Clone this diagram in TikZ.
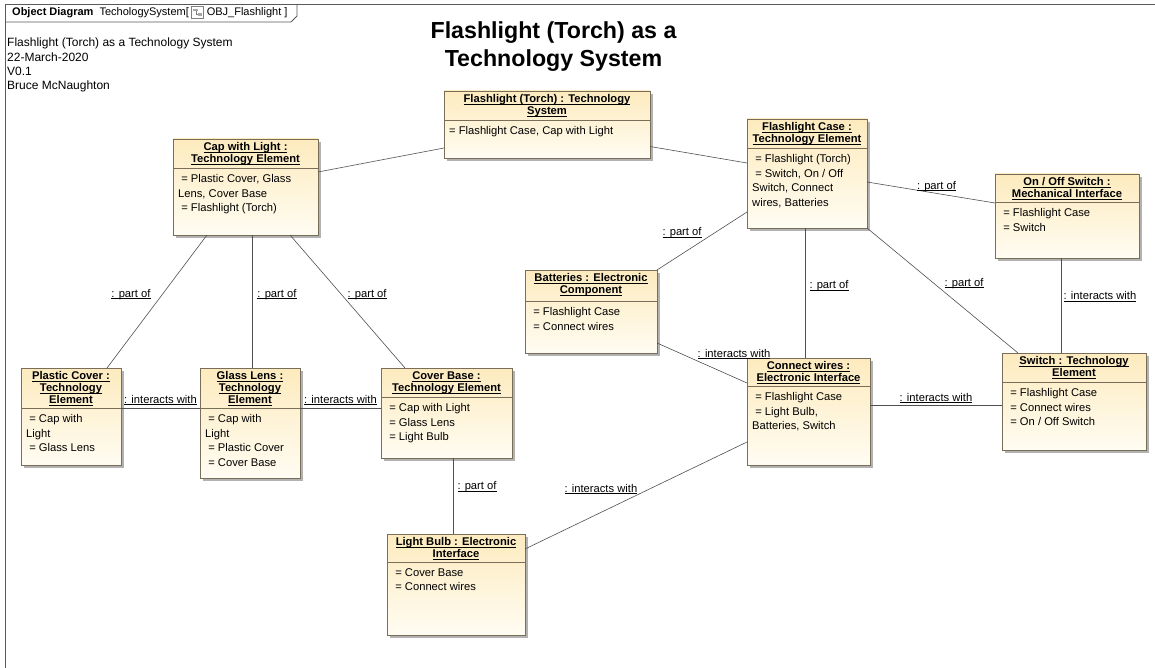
\documentclass[tikz,border=0pt]{standalone}
\usepackage{fontspec}
\setmainfont{Liberation Sans}
\usetikzlibrary{positioning,shadows,calc}

\definecolor{boxedge}{RGB}{120,110,90}
\definecolor{boxtop}{RGB}{253,235,190}
\definecolor{boxbot}{RGB}{255,252,242}
\definecolor{linkgray}{RGB}{80,80,80}
\definecolor{framegray}{RGB}{90,90,90}

\tikzset{
    object box/.style={
        draw=boxedge,line width=.7pt,
        top color=boxtop,bottom color=boxbot,
        inner sep=0pt,outer sep=0pt,anchor=north west,
        drop shadow={shadow xshift=3pt,shadow yshift=-3pt,fill=black!55,opacity=.55}
    },
    object name/.style={anchor=north,inner sep=0pt,align=center,
        font={\fontsize{11.2}{12}\selectfont\bfseries}},
    object slots/.style={anchor=north west,inner sep=0pt,align=left,
        font={\fontsize{11.2}{14.7}\selectfont}},
    object sep/.style={draw=boxedge,line width=.7pt},
    link/.style={draw=linkgray,line width=.6pt},
    link label/.style={inner sep=0pt,text height=8pt,text depth=2pt,
        font={\fontsize{11.2}{13}\selectfont}},
    header text/.style={inner sep=0pt,anchor=west,
        font={\fontsize{11}{13}\selectfont}},
}

\newcommand{\uname}[1]{\underline{\smash{#1}}\vphantom{Tg}}
% name, left, top, width, height, separator, title, slots
\newcommand{\objectbox}[8]{%
    \node[object box,minimum width=#4pt,minimum height=#5pt] (#1) at (#2,#3) {};
    \node[object name] at ([yshift=-3.8pt]#1.north) {#7};
    \draw[object sep] ([yshift=-#6pt]#1.north west) -- ([yshift=-#6pt]#1.north east);
    \node[object slots] at ([xshift=5pt,yshift=-#6pt-6pt]#1.north west) {#8};
}

\begin{document}
\begin{tikzpicture}[x=1pt,y=-1pt]
    \useasboundingbox (0,0) rectangle (1155,668);
    \fill[white] (0,0) rectangle (1155,668);

    % diagram frame and tab
    \draw[framegray,line width=.8pt] (5,668) -- (5,4) -- (1155,4);
    \draw[framegray,line width=.8pt] (5,22) -- (291,22) -- (297,16) -- (297,4);
    \node[header text] (hdr) at (12,12.5) {\textbf{Object Diagram}\ \ TechologySystem[};
    \node[draw=gray,line width=.5pt,fill=white,minimum size=12pt,inner sep=0pt,right=2pt of hdr] (icon) {};
    \fill[gray!70] ([shift={(-4pt,3.5pt)}]icon.center) rectangle ([shift={(1pt,1pt)}]icon.center);
    \draw[gray,line width=.5pt] ([shift={(-1.5pt,1pt)}]icon.center) |- ([shift={(3pt,-2pt)}]icon.center);
    \fill[gray!70] ([shift={(1pt,-0.5pt)}]icon.center) rectangle ([shift={(4.5pt,-4pt)}]icon.center);
    \node[header text,right=3pt of icon] (hdr2) {OBJ\_Flashlight ]};

    \node[anchor=north west,inner sep=0pt,align=left,font={\fontsize{12}{14.3}\selectfont}] (info)
        at (7,38) {Flashlight (Torch) as a Technology System\\22-March-2020\\V0.1\\Bruce McNaughton};
    \node[anchor=north,inner sep=0pt,align=center,font={\fontsize{23.2}{28}\selectfont\bfseries}] (title)
        at (553.5,21) {Flashlight (Torch) as a\\Technology System};

    % objects
    \objectbox{sys}{444}{91}{206}{67}{29}{\uname{Flashlight (Torch) : Technology}\\\uname{System}}
        {= Flashlight Case, Cap with Light}
    \objectbox{cap}{173}{139}{145}{96}{29}{\uname{Cap with Light :}\\\uname{Technology Element}}
        {~= Plastic Cover, Glass\\Lens, Cover Base\\~= Flashlight (Torch)}
    \objectbox{case}{747}{119}{120}{109}{29}{\uname{Flashlight Case :}\\\uname{Technology Element}}
        {~= Flashlight (Torch)\\~= Switch, On / Off\\Switch, Connect\\wires, Batteries}
    \objectbox{onoff}{995}{174}{144}{84}{28}{\uname{On / Off Switch :}\\\uname{Mechanical Interface}}
        {~= Flashlight Case\\~= Switch}
    \objectbox{batt}{525}{270}{132}{83}{31}{\uname{Batteries : Electronic}\\\uname{Component}}
        {~= Flashlight Case\\~= Connect wires}
    \objectbox{plastic}{21}{368}{100}{97}{40}{\uname{Plastic Cover :}\\\uname{Technology}\\\uname{Element}}
        {~= Cap with\\Light\\~= Glass Lens}
    \objectbox{glass}{200}{368}{100}{110}{40}{\uname{Glass Lens :}\\\uname{Technology}\\\uname{Element}}
        {~= Cap with\\Light\\~= Plastic Cover\\~= Cover Base}
    \objectbox{cover}{381}{368}{131}{90}{29}{\uname{Cover Base :}\\\uname{Technology Element}}
        {~= Cap with Light\\~= Glass Lens\\~= Light Bulb}
    \objectbox{wires}{747}{358}{123}{107}{28}{\uname{Connect wires :}\\\uname{Electronic Interface}}
        {~= Flashlight Case\\~= Light Bulb,\\Batteries, Switch}
    \objectbox{switch}{1002}{353}{144}{97}{29}{\uname{Switch : Technology}\\\uname{Element}}
        {~= Flashlight Case\\~= Connect wires\\~= On / Off Switch}
    \objectbox{bulb}{387}{534}{138}{101}{28}{\uname{Light Bulb : Electronic}\\\uname{Interface}}
        {~= Cover Base\\~= Connect wires}

    % links
    \draw[link] ([yshift=15pt]cap.east) -- ([yshift=-23.5pt]sys.west);
    \draw[link] ([yshift=-22pt]sys.east) -- ([yshift=10.5pt]case.west);
    \draw[link] ([xshift=-38.5pt]cap.south) -- node[link label,pos=.444,xshift=-31.6pt] {\uname{: part of}} ([xshift=36pt]plastic.north);
    \draw[link] ([xshift=6.5pt]cap.south) -- node[link label,pos=.444,xshift=25pt] {\uname{: part of}} ([xshift=2pt]glass.north);
    \draw[link] ([xshift=44.5pt]cap.south) -- node[link label,pos=.444,xshift=26pt] {\uname{: part of}} ([xshift=-41.5pt]cover.north);
    \draw[link] ([yshift=8.5pt]plastic.east) -- node[link label,yshift=8pt] {\uname{: interacts with}} ([yshift=15pt]glass.west);
    \draw[link] ([yshift=15pt]glass.east) -- node[link label,yshift=8pt] {\uname{: interacts with}} ([yshift=5pt]cover.west);
    \draw[link] ([xshift=6.5pt]cover.south) -- node[link label,pos=.38,xshift=24pt] {\uname{: part of}} ([xshift=-3pt]bulb.north);
    \draw[link] ([yshift=35.5pt]bulb.east) -- node[link label,pos=.342,yshift=23.4pt] {\uname{: interacts with}} ([yshift=-30.5pt]wires.west);
    \draw[link] ([yshift=-31.5pt]batt.east) -- node[link label,pos=.856,yshift=23pt] {\uname{: interacts with}} ([yshift=28.5pt]wires.west);
    \draw[link] (batt.north east) -- node[link label,pos=.278,yshift=21pt] {\uname{: part of}} ([yshift=-38.5pt]case.west);
    \draw[link] ([xshift=-2pt]case.south) -- node[link label,pos=.446,xshift=24pt] {\uname{: part of}} ([xshift=-3.5pt]wires.north);
    \draw[link] (case.south east) -- node[link label,pos=.44,xshift=30.6pt] {\uname{: part of}} ([xshift=-56pt]switch.north);
    \draw[link] ([yshift=-8.5pt]case.east) -- node[link label,pos=.543,yshift=7.4pt] {\uname{: part of}} ([yshift=13pt]onoff.west);
    \draw[link] ([xshift=-6pt]onoff.south) -- node[link label,pos=.41,xshift=39pt] {\uname{: interacts with}} ([xshift=-13pt]switch.north);
    \draw[link] ([yshift=6.5pt]wires.east) -- node[link label,yshift=7pt] {\uname{: interacts with}} ([yshift=-3.5pt]switch.west);
\end{tikzpicture}
\end{document}
